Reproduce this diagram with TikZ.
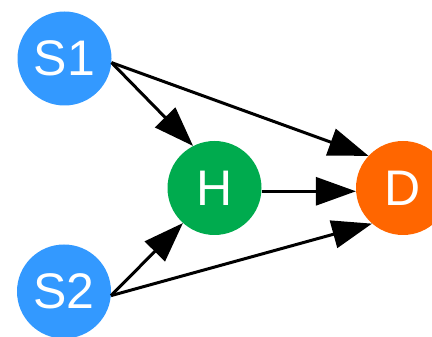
\documentclass[tikz,border=0pt]{standalone}
\usepackage{fontspec}
\setmainfont{Liberation Sans}
\usetikzlibrary{arrows.meta}
\definecolor{sblue}{HTML}{3399FF}
\definecolor{hgreen}{HTML}{00AB4E}
\definecolor{dorange}{HTML}{FF6600}
\begin{document}
\begin{tikzpicture}[x=1pt,y=-1pt,
  vnode/.style={circle,minimum size=94pt,inner sep=0pt,text=white,font=\fontsize{50}{54}\selectfont},
  edge/.style={line width=3pt,-{Triangle[length=40pt,width=28pt]}}]
\useasboundingbox (0,0) rectangle (432,337);
\node[vnode,fill=sblue] (S1) at (64.5,58.5) {S1};
\node[vnode,fill=sblue] (S2) at (64,291.5) {S2};
\node[vnode,fill=hgreen] (H) at (214.5,188) {H};
\node[vnode,fill=dorange] (D) at (403,188) {D};
\draw[edge] (S1.-5) -- (H.117);
\draw[edge] (S1.-5) -- (D.137);
\draw[edge] (S2.-5) -- (H.228);
\draw[edge] (S2.-5) -- (D.229);
\draw[edge] (H.-4) -- (D.184);
\end{tikzpicture}
\end{document}
